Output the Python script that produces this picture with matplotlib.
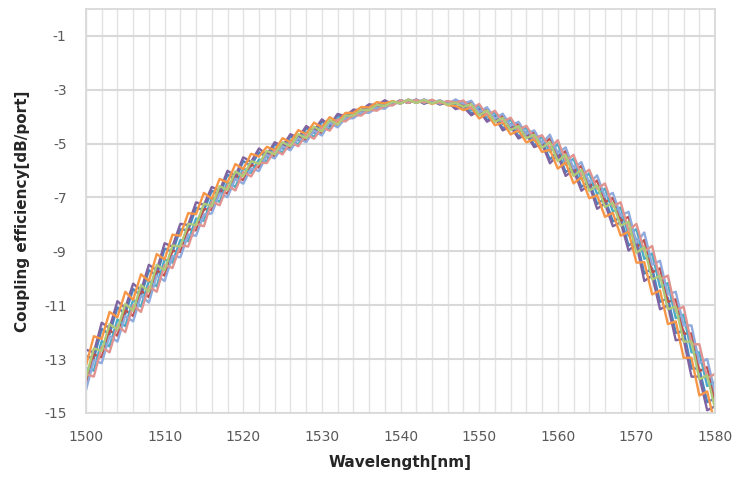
import numpy as np
from matplotlib import pyplot as plt

plt.rcParams['axes.unicode_minus'] = False

# wavelength grid, 1 nm step
wavelength = np.arange(1500, 1581)

# coupling efficiency per port [dB]
port_1 = [-12.88, -12.98, -11.88, -12.08, -11.08, -11.33, -10.4, -10.65, -9.7, -9.9,
          -8.9, -9.02, -8.18, -8.22, -7.38, -7.47, -6.75, -6.89, -6.15, -6.34,
          -5.65, -5.82, -5.32, -5.5, -5.03, -5.18, -4.73, -4.88, -4.43, -4.6,
          -4.18, -4.37, -3.95, -4.03, -3.79, -3.81, -3.59, -3.63, -3.44, -3.55,
          -3.39, -3.49, -3.37, -3.51, -3.4, -3.54, -3.45, -3.66, -3.58, -3.89,
          -3.71, -4.13, -3.96, -4.43, -4.28, -4.73, -4.58, -5.05, -4.93, -5.59,
          -5.29, -6.06, -5.84, -6.61, -6.39, -7.24, -7.04, -7.89, -7.74, -8.79,
          -8.54, -9.83, -9.63, -10.88, -10.73, -12.03, -11.95, -13.35, -13.35, -14.6,
          -14.45]
port_2 = [-13.93, -12.83, -12.93, -11.93, -12.13, -11.18, -11.4, -10.45, -10.7, -9.7,
          -9.9, -8.98, -9.02, -8.18, -8.22, -7.43, -7.46, -6.72, -6.86, -6.17,
          -6.36, -5.79, -5.89, -5.35, -5.48, -5.03, -5.18, -4.73, -4.88, -4.45,
          -4.63, -4.17, -4.35, -4.01, -4.01, -3.79, -3.81, -3.61, -3.66, -3.45,
          -3.51, -3.37, -3.49, -3.37, -3.5, -3.4, -3.55, -3.42, -3.58, -3.47,
          -3.89, -3.71, -4.14, -3.97, -4.42, -4.27, -4.72, -4.59, -5.07, -4.81,
          -5.51, -5.28, -6.06, -5.83, -6.61, -6.37, -7.17, -7.02, -7.87, -7.72,
          -8.87, -8.58, -9.78, -9.63, -10.88, -10.78, -12.05, -12.05, -13.45, -13.3,
          -14.55]
port_3 = [-12.65, -12.75, -11.65, -11.85, -10.85, -11.1, -10.2, -10.45, -9.5, -9.7,
          -8.7, -8.82, -7.98, -8.02, -7.18, -7.27, -6.61, -6.75, -6.01, -6.2,
          -5.51, -5.68, -5.18, -5.42, -4.95, -5.1, -4.65, -4.8, -4.35, -4.52,
          -4.1, -4.32, -3.9, -3.98, -3.74, -3.76, -3.54, -3.58, -3.39, -3.54,
          -3.39, -3.49, -3.37, -3.52, -3.41, -3.55, -3.46, -3.72, -3.64, -3.95,
          -3.77, -4.19, -4.02, -4.51, -4.36, -4.81, -4.66, -5.13, -5.01, -5.73,
          -5.43, -6.2, -5.98, -6.75, -6.53, -7.42, -7.22, -8.07, -7.92, -8.97,
          -8.72, -10.1, -9.9, -11.15, -11.0, -12.3, -12.25, -13.65, -13.65, -14.9,
          -14.75]
port_4 = [-13.33, -13.43, -12.33, -12.53, -11.53, -11.78, -10.8, -11.05, -10.1, -10.3,
          -9.3, -9.42, -8.58, -8.62, -7.78, -7.87, -7.02, -7.16, -6.42, -6.61,
          -5.92, -6.09, -5.59, -5.65, -5.18, -5.33, -4.88, -5.03, -4.58, -4.75,
          -4.33, -4.47, -4.05, -4.13, -3.89, -3.91, -3.69, -3.73, -3.54, -3.57,
          -3.39, -3.49, -3.37, -3.49, -3.38, -3.52, -3.43, -3.54, -3.46, -3.77,
          -3.59, -4.01, -3.84, -4.27, -4.12, -4.57, -4.42, -4.89, -4.77, -5.31,
          -5.01, -5.78, -5.56, -6.33, -6.11, -6.87, -6.67, -7.52, -7.37, -8.42,
          -8.17, -9.28, -9.08, -10.33, -10.18, -11.48, -11.35, -12.75, -12.75, -14.0,
          -13.85]
port_5 = [-13.25, -12.15, -12.25, -11.25, -11.45, -10.5, -10.8, -9.85, -10.1, -9.1,
          -9.3, -8.38, -8.42, -7.58, -7.62, -6.83, -7.05, -6.31, -6.45, -5.76,
          -5.95, -5.38, -5.48, -5.12, -5.25, -4.8, -4.95, -4.5, -4.65, -4.22,
          -4.4, -4.02, -4.2, -3.86, -3.86, -3.64, -3.66, -3.46, -3.51, -3.42,
          -3.51, -3.37, -3.49, -3.4, -3.53, -3.43, -3.58, -3.6, -3.76, -3.65,
          -4.07, -3.89, -4.32, -4.21, -4.66, -4.51, -4.96, -4.83, -5.31, -5.23,
          -5.93, -5.7, -6.48, -6.25, -7.03, -6.92, -7.72, -7.57, -8.42, -8.27,
          -9.42, -9.4, -10.6, -10.45, -11.7, -11.6, -12.95, -12.95, -14.35, -14.2,
          -15.45]
port_6 = [-14.15, -13.05, -13.15, -12.15, -12.35, -11.4, -11.6, -10.65, -10.9, -9.9,
          -10.1, -9.18, -9.22, -8.38, -8.42, -7.63, -7.59, -6.85, -6.99, -6.3,
          -6.49, -5.92, -6.02, -5.42, -5.55, -5.1, -5.25, -4.8, -4.95, -4.52,
          -4.7, -4.22, -4.4, -4.06, -4.06, -3.84, -3.86, -3.66, -3.71, -3.46,
          -3.51, -3.37, -3.49, -3.36, -3.49, -3.39, -3.54, -3.36, -3.52, -3.41,
          -3.83, -3.65, -4.08, -3.89, -4.34, -4.19, -4.64, -4.51, -4.99, -4.67,
          -5.37, -5.14, -5.92, -5.69, -6.47, -6.18, -6.98, -6.83, -7.68, -7.53,
          -8.68, -8.3, -9.5, -9.35, -10.6, -10.5, -11.75, -11.75, -13.15, -13.0,
          -14.25]
port_7 = [-13.55, -13.65, -12.55, -12.75, -11.75, -12.0, -11.0, -11.25, -10.3, -10.5,
          -9.5, -9.62, -8.78, -8.82, -7.98, -8.07, -7.15, -7.29, -6.55, -6.74,
          -6.05, -6.22, -5.72, -5.72, -5.25, -5.4, -4.95, -5.1, -4.65, -4.82,
          -4.4, -4.52, -4.1, -4.18, -3.94, -3.96, -3.74, -3.78, -3.59, -3.58,
          -3.39, -3.49, -3.37, -3.48, -3.37, -3.51, -3.42, -3.48, -3.4, -3.71,
          -3.53, -3.95, -3.78, -4.19, -4.04, -4.49, -4.34, -4.81, -4.69, -5.17,
          -4.87, -5.64, -5.42, -6.19, -5.97, -6.68, -6.48, -7.33, -7.18, -8.23,
          -7.98, -9.0, -8.8, -10.05, -9.9, -11.2, -11.05, -12.45, -12.45, -13.7,
          -13.55]
port_8 = [-13.7, -12.6, -12.7, -11.7, -11.9, -10.95, -11.2, -10.25, -10.5, -9.5,
          -9.7, -8.78, -8.82, -7.98, -8.02, -7.23, -7.32, -6.58, -6.72, -6.03,
          -6.22, -5.65, -5.75, -5.27, -5.4, -4.95, -5.1, -4.65, -4.8, -4.37,
          -4.55, -4.12, -4.3, -3.96, -3.96, -3.74, -3.76, -3.56, -3.61, -3.44,
          -3.51, -3.37, -3.49, -3.38, -3.51, -3.41, -3.56, -3.48, -3.64, -3.53,
          -3.95, -3.77, -4.2, -4.05, -4.5, -4.35, -4.8, -4.67, -5.15, -4.95,
          -5.65, -5.42, -6.2, -5.97, -6.75, -6.55, -7.35, -7.2, -8.05, -7.9,
          -9.05, -8.85, -10.05, -9.9, -11.15, -11.05, -12.35, -12.35, -13.75, -13.6,
          -14.85]

ports = [port_1, port_2, port_3, port_4, port_5, port_6, port_7, port_8]
colors = ['#4F81BD', '#C0504D', '#8064A2', '#4BACC6',
          '#F79646', '#8FAADC', '#E0938F', '#AFC97A']

fig = plt.figure(figsize=(7.41, 4.94), dpi=100)
ax = fig.add_axes([0.116, 0.164, 0.849, 0.818])

for p, c in zip(ports, colors):
    ax.plot(wavelength, p, color=c, linewidth=1.7)

ax.set_xlim(1500, 1580)
ax.set_ylim(-15, 0)
ax.set_xticks(range(1500, 1581, 10))
ax.set_xticks(range(1500, 1581, 2), minor=True)
ax.set_yticks(range(-15, 0, 2))

# grid: horizontal every 2 dB, vertical every 2 nm
ax.grid(axis='y', which='major', color='#d9d9d9', linewidth=1.5)
ax.grid(axis='x', which='both', color='#e3e3e3', linewidth=1.0)
ax.set_axisbelow(True)
for s in ax.spines.values():
    s.set_color('#d9d9d9')
    s.set_linewidth(1.3)

ax.tick_params(axis='both', which='both', length=0, labelsize=10, labelcolor='#595959')
ax.tick_params(axis='x', pad=12)
ax.tick_params(axis='y', pad=14)

ax.set_xlabel('Wavelength[nm]', fontsize=11, fontweight='bold', color='#262626', labelpad=8)
ax.set_ylabel('Coupling efficiency[dB/port]', fontsize=11, fontweight='bold', color='#262626', labelpad=10)

plt.savefig('out.png', dpi=100)
